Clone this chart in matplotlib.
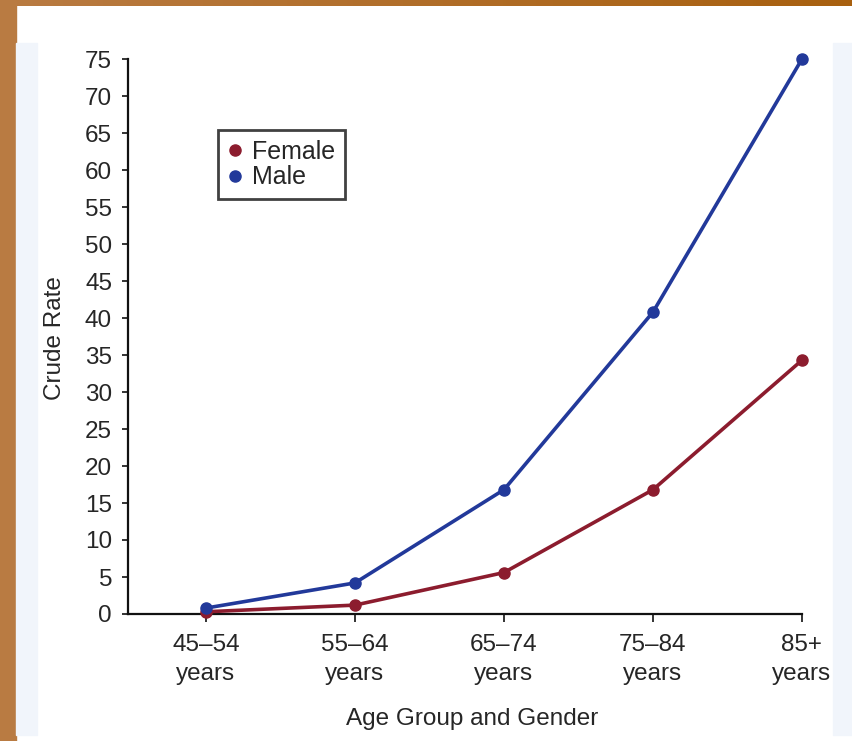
import numpy as np
import matplotlib
matplotlib.use("Agg")
import matplotlib.pyplot as plt
from matplotlib.lines import Line2D
from matplotlib.patches import Rectangle

plt.rcParams['font.family'] = ['Liberation Sans', 'DejaVu Sans']

# --- data ---
age_groups = ["45\u201354\nyears", "55\u201364\nyears", "65\u201374\nyears",
              "75\u201384\nyears", "85+\nyears"]
female_rate = [0.3, 1.2, 5.6, 16.8, 34.3]
male_rate = [0.8, 4.2, 16.8, 40.8, 75.0]
y_ticks = list(range(0, 80, 5))

FEMALE = "#8c1c2e"
MALE = "#22399a"
TXT = "#262626"
FS = 17.5

W, H = 853, 741
fig = plt.figure(figsize=(W / 100, H / 100), dpi=100)
fig.patch.set_facecolor("white")

# brown frame (top bar gradient + left strip) and pale side panels
bar = fig.add_axes([0, 1 - 6 / H, 1, 6 / H])
grad = np.linspace(0, 1, 256).reshape(1, -1)
cmap = matplotlib.colors.LinearSegmentedColormap.from_list("b", ["#b97b42", "#a8600f"])
bar.imshow(grad, aspect="auto", cmap=cmap)
bar.axis("off")
fig.patches.append(Rectangle((0, 0), 16 / W, 1, transform=fig.transFigure,
                             color="#b97b42", zorder=0))
fig.patches.append(Rectangle((16 / W, 6 / H), 21 / W, 1 - 49 / H, transform=fig.transFigure,
                             color="#f1f5fb", zorder=0))
fig.patches.append(Rectangle((833 / W, 6 / H), 20 / W, 1 - 49 / H, transform=fig.transFigure,
                             color="#f1f5fb", zorder=0))

x = np.arange(len(age_groups))
ax = fig.add_axes([128 / W, 1 - 614 / H, (802 - 128) / W, (614 - 59) / H])
ax.set_facecolor("none")

ax.plot(x, female_rate, color=FEMALE, lw=2.6, marker="o", ms=8, zorder=3, clip_on=False)
ax.plot(x, male_rate, color=MALE, lw=2.6, marker="o", ms=8, zorder=4, clip_on=False)

ax.set_xlim(-0.523, 4)
ax.set_ylim(0, 75)
ax.set_xticks(x)
ax.set_xticklabels(age_groups, fontsize=FS, color=TXT, linespacing=1.4)
ax.set_yticks(y_ticks)
ax.set_yticklabels([str(v) for v in y_ticks], fontsize=FS, color=TXT)

for s in ["top", "right"]:
    ax.spines[s].set_visible(False)
for s in ["left", "bottom"]:
    ax.spines[s].set_linewidth(1.6)
    ax.spines[s].set_color("#111111")
ax.tick_params(axis="y", length=4, width=1.2, pad=7.5, color="#111111")
ax.tick_params(axis="x", length=6, width=1.2, pad=8.5, color="#111111")

ax.set_ylabel("Crude Rate", fontsize=FS, color=TXT)
ax.set_xlabel("Age Group and Gender", fontsize=FS, color=TXT)
ax.yaxis.set_label_coords(-0.092, 0.497)
ax.xaxis.set_label_coords(0.51, -0.170)

handles = [Line2D([], [], ls="none", marker="o", ms=8, color=FEMALE),
           Line2D([], [], ls="none", marker="o", ms=8, color=MALE)]
leg = ax.legend(handles, ["Female", "Male"], loc="upper left",
                bbox_to_anchor=(0.1335, 0.872), fontsize=18, frameon=True,
                fancybox=False, handlelength=0.6, handletextpad=0.35,
                borderpad=0.4, labelspacing=0.05, borderaxespad=0)
leg.get_frame().set_edgecolor("#111111")
leg.get_frame().set_linewidth(2)
for t in leg.get_texts():
    t.set_color(TXT)

fig.savefig("out.png", dpi=100)
